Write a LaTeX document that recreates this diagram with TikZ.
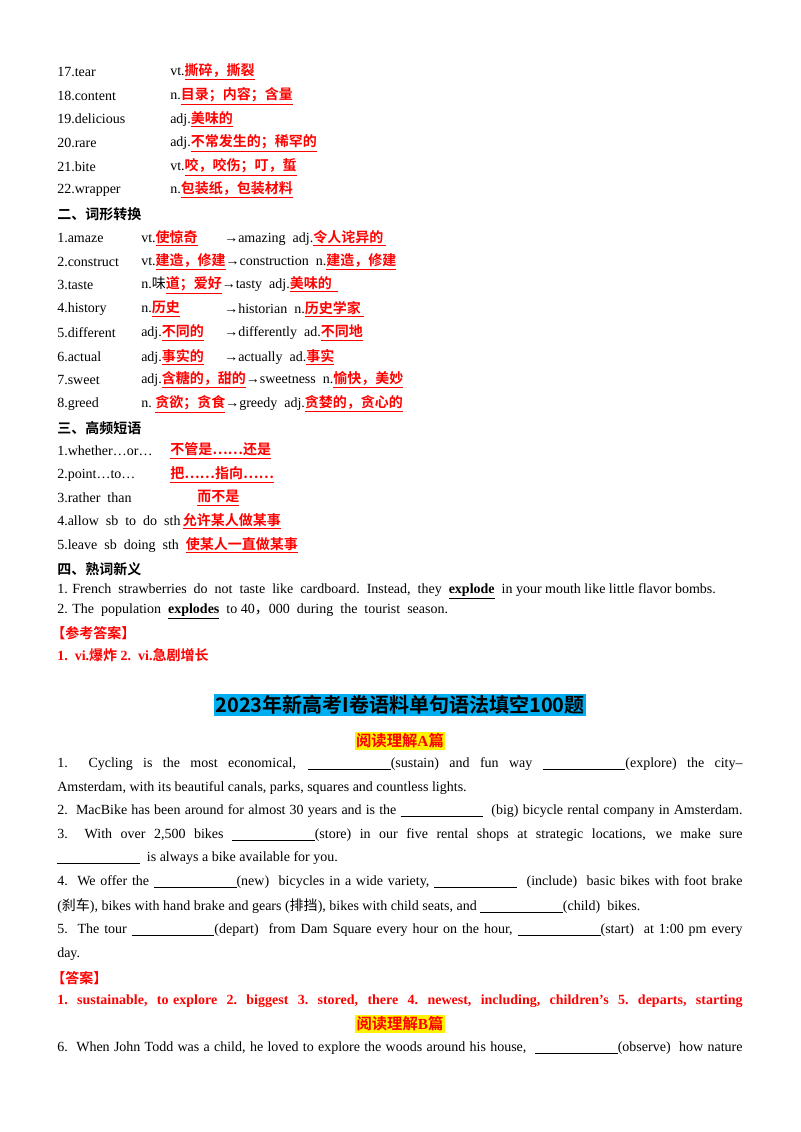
\documentclass[tikz,border=0pt]{standalone}
\usepackage{fontspec}
\setmainfont{Liberation Serif}
\newfontfamily\cjk{Noto Sans CJK SC}[BoldFont={Noto Sans CJK SC Bold}]
\newcommand{\R}[1]{{\color{red}\bfseries\cjk\underline{#1}}}
\newcommand{\Rn}[1]{{\color{red}\bfseries\cjk #1}}
\newcommand{\B}{\underline{\hspace{62pt}}}
\begin{document}
\begin{tikzpicture}[x=0.75pt,y=-0.75pt,
  t/.style={anchor=west,inner sep=0pt,font=\fontsize{10.5}{12}\selectfont},
  hd/.style={t,font=\fontsize{10.5}{12}\selectfont\bfseries\cjk}]
\useasboundingbox (0,0) rectangle (800,1132);
\fill[white] (0,0) rectangle (800,1132);
\def\W{\makebox[514pt][s]}
% section 1
\node[t] (a1) at (57,72) {17.tear};   \node[t] (b1) at (170,72) {vt.\R{撕碎，撕裂}};
\node[t] (a2) at (57,96) {18.content};\node[t] (b2) at (170,96) {n.\R{目录；内容；含量}};
\node[t] (a3) at (57,119) {19.delicious};\node[t] (b3) at (170,119) {adj.\R{美味的}};
\node[t] (a4) at (57,143) {20.rare};  \node[t] (b4) at (170,143) {adj.\R{不常发生的；稀罕的}};
\node[t] (a5) at (57,167) {21.bite};  \node[t] (b5) at (170,167) {vt.\R{咬，咬伤；叮，蜇}};
\node[t] (a6) at (57,190) {22.wrapper};\node[t] (b6) at (170,190) {n.\R{包装纸，包装材料}};
\node[hd] (h2) at (57,214) {二、词形转换};
% section 2
\node[t] (c1) at (57,238) {1.amaze}; \node[t] (d1) at (141,238) {vt.\R{使惊奇}};
\node[t] (e1) at (224,238) {→amazing\ \ adj.\R{令人诧异的\ }};
\node[t] (c2) at (57,262) {2.construct}; \node[t] (d2) at (141,262) {vt.\R{建造，修建}→construction\ \ n.\R{建造，修建}};
\node[t] (c3) at (57,285) {3.taste}; \node[t] (d3) at (141,285) {n.{\cjk 味}\R{道；爱好}→tasty\ \ adj.\R{美味的\ \ }};
\node[t] (c4) at (57,309) {4.history}; \node[t] (d4) at (141,309) {n.\R{历史}};
\node[t] (e4) at (224,309) {→historian\ \ n.\R{历史学家\ }};
\node[t] (c5) at (57,333) {5.different}; \node[t] (d5) at (141,333) {adj.\R{不同的}};
\node[t] (e5) at (224,333) {→differently\ \ ad.\R{不同地}};
\node[t] (c6) at (57,357) {6.actual}; \node[t] (d6) at (141,357) {adj.\R{事实的}};
\node[t] (e6) at (224,357) {→actually\ \ ad.\R{事实}};
\node[t] (c7) at (57,380) {7.sweet}; \node[t] (d7) at (141,380) {adj.\R{含糖的，甜的}→sweetness\ \ n.\R{愉快，美妙}};
\node[t] (c8) at (57,404) {8.greed}; \node[t] (d8) at (141,404) {n.\ \R{贪欲；贪食}→greedy\ \ adj.\R{贪婪的，贪心的}};
\node[hd] (h3) at (57,428) {三、高频短语};
% section 3
\node[t] (f1) at (57,451) {1.whether…or…}; \node[t] (g1) at (170,451) {\R{不管是……还是}};
\node[t] (f2) at (57,475) {2.point…to…}; \node[t] (g2) at (170,475) {\R{把……指向……}};
\node[t] (f3) at (57,498) {3.rather\ \ than}; \node[t] (g3) at (197,498) {\R{而不是}};
\node[t] (f4) at (57,521) {4.allow\ \ sb\ \ to\ \ do\ \ sth\,\R{允许某人做某事}};
\node[t] (f5) at (57,545) {5.leave\ \ sb\ \ doing\ \ sth\ \ \R{使某人一直做某事}};
\node[hd] (h4) at (57,569) {四、熟词新义};
\node[t] (k1) at (57,591) {1. French\ \ strawberries\ \ do\ \ not\ \ taste\ \ like\ \ cardboard.\ \ Instead,\ \ they\ \ \textbf{\underline{explode}}\ \ in your mouth like little flavor bombs.};
\node[t] (k2) at (57,611) {2. The\ \ population\ \ \textbf{\underline{explodes}}\ \ to 40{\cjk ，}000\ \ during\ \ the\ \ tourist\ \ season.};
\node[t] (k3) at (51,633) {\Rn{【参考答案】}};
\node[t] (k4) at (57,655) {\color{red}\bfseries 1.\ \ vi.{\cjk 爆炸} 2.\ \ vi.{\cjk 急剧增长}};
% title
\node[anchor=center,inner sep=1pt,fill=cyan,font=\fontsize{15}{17}\selectfont\bfseries\cjk] (title) at (400,705) {2023年新高考I卷语料单句语法填空100题};
\node[anchor=center,inner sep=1pt,fill=yellow,text=red,font=\fontsize{11.5}{13}\selectfont\bfseries\cjk] (secA) at (400,741) {阅读理解{\rmfamily A}篇};
% paragraphs
\node[t] (p1) at (57,764) {\W{1.\ \ Cycling is the most economical, \B(sustain) and fun way \B(explore) the city--}};
\node[t] (p2) at (57,788) {Amsterdam, with its beautiful canals, parks, squares and countless lights.};
\node[t] (p3) at (57,811) {\W{2.\ \ MacBike has been around for almost 30 years and is the \B\ \ (big) bicycle rental company in Amsterdam.}};
\node[t] (p4) at (57,835) {\W{3.\ \ With over 2,500 bikes \B(store) in our five rental shops at strategic locations, we make sure}};
\node[t] (p5) at (57,858) {\B\ \ is always a bike available for you.};
\node[t] (p6) at (57,882) {\W{4.\ \ We offer the \B(new)\ \ bicycles in a wide variety, \B\ \ (include)\ \ basic bikes with foot brake}};
\node[t] (p7) at (57,906) {({\cjk 刹车}), bikes with hand brake and gears ({\cjk 排挡}), bikes with child seats, and \B(child)\ \ bikes.};
\node[t] (p8) at (57,930) {\W{5.\ \ The tour \B(depart)\ \ from Dam Square every hour on the hour, \B(start)\ \ at 1:00 pm every}};
\node[t] (p9) at (57,954) {day.};
\node[t] (q1) at (51,978) {\Rn{【答案】}};
\node[t] (q2) at (57,1001) {\color{red}\bfseries\W{1.\ \ sustainable,\ \ to explore\ \ 2.\ \ biggest\ \ 3.\ \ stored,\ \ there\ \ 4.\ \ newest,\ \ including,\ \ children’s\ \ 5.\ \ departs,\ \ starting}};
\node[anchor=center,inner sep=1pt,fill=yellow,text=red,font=\fontsize{11.5}{13}\selectfont\bfseries\cjk] (secB) at (400,1024) {阅读理解{\rmfamily B}篇};
\node[t] (r1) at (57,1048) {\W{6.\ \ When John Todd was a child, he loved to explore the woods around his house, \ \B(observe)\ \ how nature}};
\end{tikzpicture}
\end{document}
